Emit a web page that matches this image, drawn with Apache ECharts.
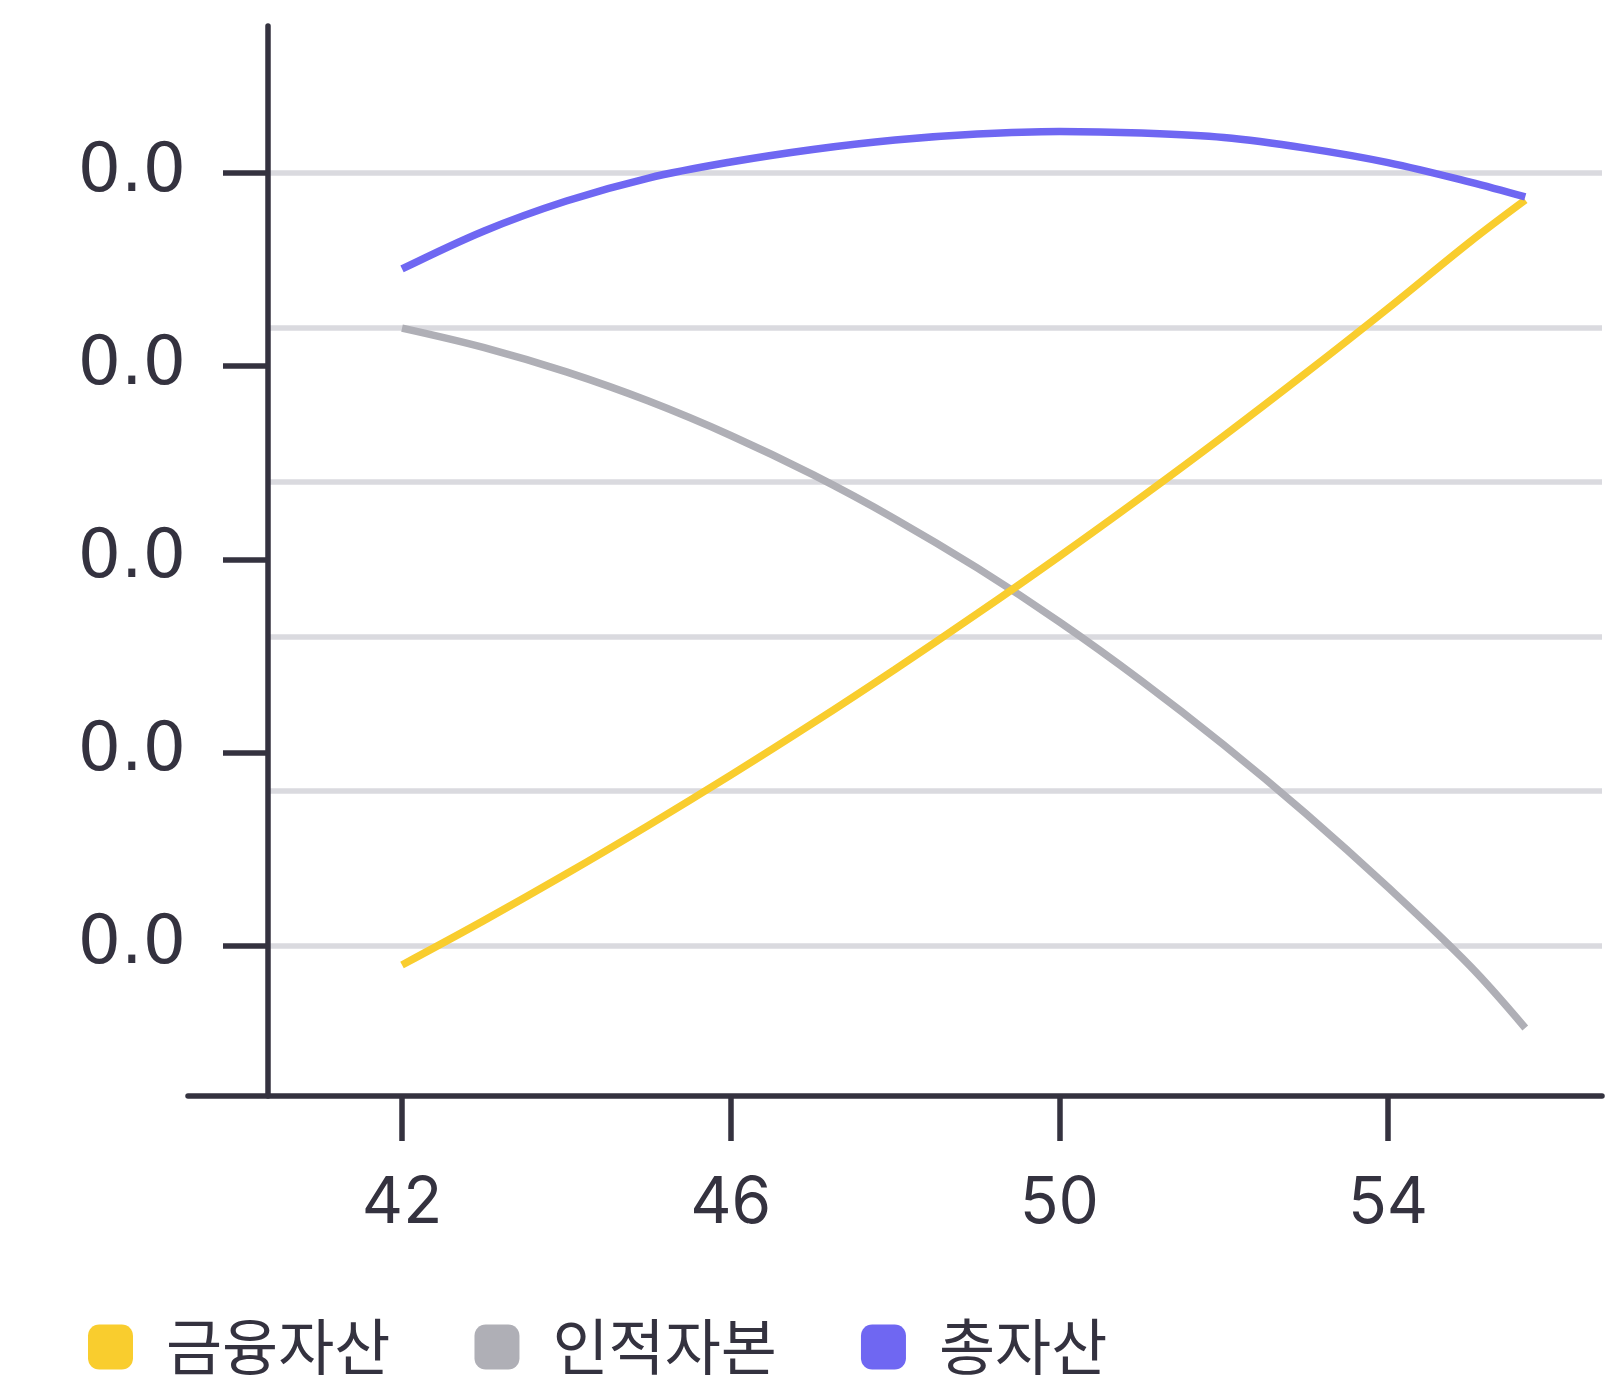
<!DOCTYPE html>
<html>
<head>
<meta charset="utf-8">
<script src="https://cdn.jsdelivr.net/npm/echarts@6/dist/echarts.min.js"></script>
<style>
  html, body { margin: 0; padding: 0; background: #ffffff; }
  #chart { width: 1623px; height: 1385px; }
</style>
</head>
<body>
<div id="chart"></div>
<script>
// Ages (x) shared by all three series
const ages = [42, 43, 44, 45, 46, 47, 48, 49, 50, 51, 52, 53, 54, 55, 55.67];

// 금융자산 (financial assets)
const financial = [-0.00101, 0.00130, 0.00371, 0.00622, 0.00882, 0.01151, 0.01430, 0.01718,
                   0.02015, 0.02322, 0.02638, 0.02964, 0.03299, 0.03644, 0.03860];
// 인적자본 (human capital)
const human = [0.03197, 0.03096, 0.02970, 0.02819, 0.02641, 0.02438, 0.02209, 0.01955,
               0.01676, 0.01370, 0.01039, 0.00683, 0.00301, -0.00107, -0.00427];
// 총자산 (total assets)
const total = [0.03503, 0.03700, 0.03855, 0.03974, 0.04057, 0.04122, 0.04171, 0.04202,
               0.04215, 0.04207, 0.04184, 0.04129, 0.04054, 0.03953, 0.03876];

const seriesNames = ['금융자산', '인적자본', '총자산'];
const seriesColors = ['#f9cd2e', '#afafb6', '#6f67f2'];

// Axis ticks
const xTicks = [42, 46, 50, 54];
const yTicks = [0, 0.01, 0.02, 0.03, 0.04];
const yGridValues = [0, 0.008, 0.016, 0.024, 0.032, 0.040];

// Axis extents
const xOuterMin = 39.396, xInnerMin = 40.369, xMax = 56.604;
const yMin = -0.007793, yMax = 0.047612;

const ink = '#34323f';
const zip = (xs, ys) => xs.map((x, i) => [x, ys[i]]);

const chart = echarts.init(document.getElementById('chart'), null, { renderer: 'canvas' });

const lineSeries = (name, data, color, z) => ({
  name, type: 'line', xAxisIndex: 1, yAxisIndex: 1,
  data: zip(ages, data), smooth: 0.35, showSymbol: false, symbol: 'none',
  lineStyle: { color, width: 7.5 }, itemStyle: { color }, z
});

chart.setOption({
  backgroundColor: '#ffffff',
  animation: false,
  grid: [
    // outer grid carries the wide x-axis baseline and its labels
    { left: 188, right: 21, top: 26, bottom: 289 },
    // inner grid holds the y-axis, guide lines and the curves
    { left: 268, right: 21, top: 26, bottom: 289 }
  ],
  xAxis: [
    {
      gridIndex: 0, type: 'value', min: xOuterMin, max: xMax,
      axisLine: { show: true, onZero: false, lineStyle: { color: ink, width: 5.5 } },
      axisTick: { show: true, customValues: xTicks, length: 45, lineStyle: { color: ink, width: 5.5 } },
      axisLabel: {
        customValues: xTicks, margin: 76, color: ink, fontSize: 64,
        fontFamily: 'Inter, "Noto Sans", sans-serif'
      },
      splitLine: { show: false }
    },
    {
      gridIndex: 1, type: 'value', min: xInnerMin, max: xMax, show: false,
      axisLine: { onZero: false },
      splitLine: { show: false }
    }
  ],
  yAxis: [
    { gridIndex: 0, type: 'value', min: yMin, max: yMax, show: false, splitLine: { show: false } },
    {
      gridIndex: 1, type: 'value', min: yMin, max: yMax, position: 'left',
      axisLine: { show: true, onZero: false, lineStyle: { color: ink, width: 5.5 } },
      axisTick: { show: true, customValues: yTicks, length: 45, lineStyle: { color: ink, width: 5.5 } },
      axisLabel: {
        customValues: yTicks, margin: 82, color: ink, fontSize: 68,
        fontFamily: '"DejaVu Sans", sans-serif',
        formatter: v => v.toFixed(1)
      },
      splitLine: { show: false }
    },
    {
      gridIndex: 1, type: 'value', min: yMin, max: yMax, position: 'right',
      axisLine: { show: false },
      axisTick: { show: false, customValues: yGridValues },
      axisLabel: { show: false, customValues: yGridValues },
      splitLine: { show: true, lineStyle: { color: '#dadadf', width: 5.5 } }
    }
  ],
  legend: {
    data: seriesNames,
    left: 88, top: 1315, padding: 0,
    itemWidth: 45, itemHeight: 45, itemGap: 84,
    icon: 'roundRect',
    textStyle: {
      color: ink, fontSize: 61, lineHeight: 64,
      fontFamily: '"Noto Sans CJK KR", "Noto Sans", sans-serif',
      padding: [0, 0, 0, 28]
    }
  },
  series: [
    lineSeries(seriesNames[1], human, seriesColors[1], 2),
    lineSeries(seriesNames[0], financial, seriesColors[0], 3),
    lineSeries(seriesNames[2], total, seriesColors[2], 4)
  ]
});
</script>
</body>
</html>
